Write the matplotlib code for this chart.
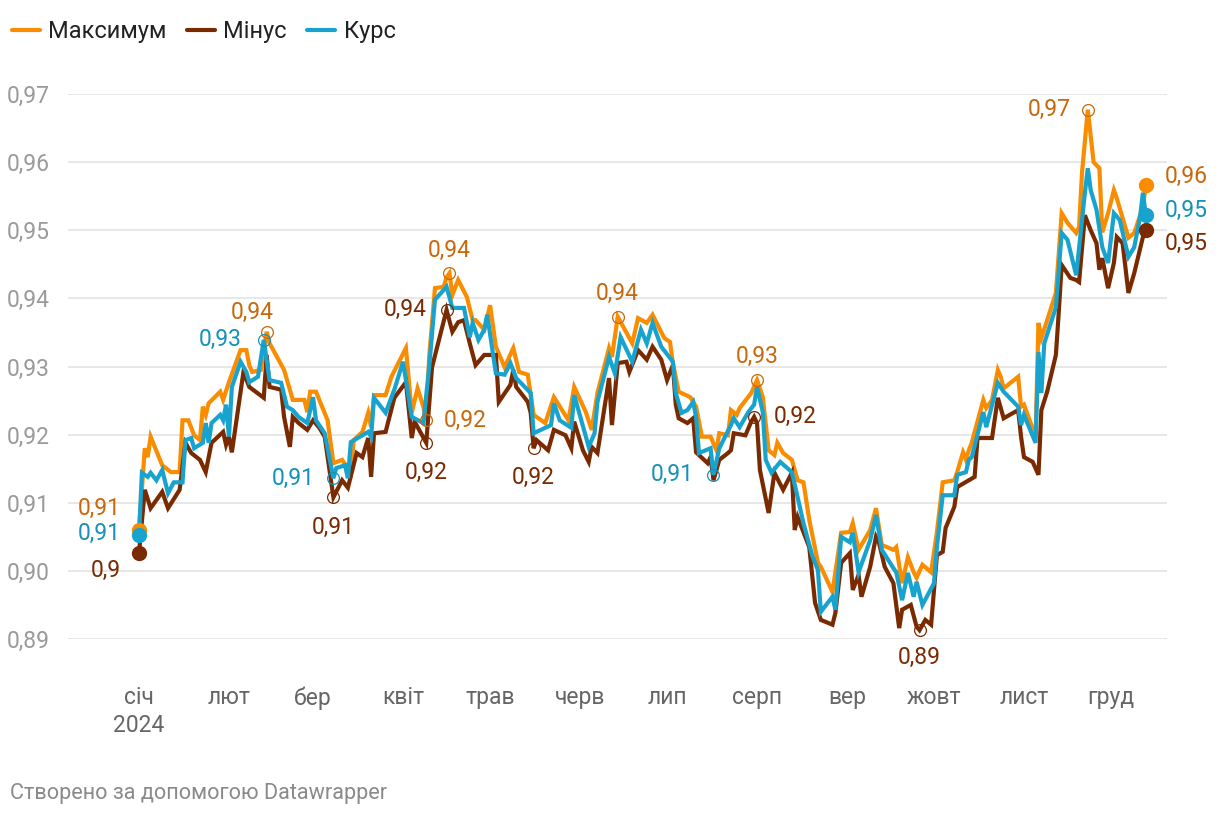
import matplotlib
matplotlib.use("Agg")
import matplotlib.pyplot as plt
import pandas as pd

plt.rcParams['font.family'] = ['Roboto', 'DejaVu Sans']

# ---------------- data ----------------
series_names = ["Максимум", "Мінус", "Курс"]

# day offsets from 2024-01-01 and values
max_days = [0, 2, 3, 4, 8, 11, 14, 15, 17, 19, 21, 22, 23, 24, 28, 29, 31, 35, 37, 38, 39, 42, 44, 45, 50,
            53, 57, 58, 59, 61, 65, 67, 70, 73, 74, 77, 79, 80, 81, 85, 87, 90, 92, 94, 96, 98, 99, 100, 102,
            105, 106, 107, 108, 110, 113, 115, 116, 119, 121, 123, 126, 129, 131, 134, 136, 140, 143, 148,
            150, 154, 156, 158, 162, 163, 165, 170, 172, 175, 177, 181, 183, 184, 186, 190, 192, 194, 197,
            199, 200, 203, 204, 206, 207, 211, 213, 215, 217, 219, 220, 222, 225, 227, 229, 231, 234, 235,
            239, 242, 245, 246, 248, 252, 254, 256, 260, 261, 263, 265, 267, 268, 270, 273, 275, 277, 281,
            282, 284, 285, 286, 287, 291, 292, 294, 296, 297, 298, 303, 304, 305, 309, 310, 311, 313, 316,
            318, 320, 323, 324, 325, 327, 329, 331, 332, 334, 336, 337, 341, 343, 346, 347]
max_vals = [0.9060, 0.9180, 0.9167, 0.9197, 0.9155, 0.9145, 0.9145, 0.9221, 0.9221, 0.9199, 0.9192, 0.9241,
            0.9229, 0.9246, 0.9263, 0.9251, 0.9277, 0.9324, 0.9324, 0.9302, 0.9292, 0.9295, 0.9351, 0.9334,
            0.9295, 0.9251, 0.9251, 0.9233, 0.9263, 0.9263, 0.9221, 0.9158, 0.9163, 0.9144, 0.9192, 0.9204,
            0.9232, 0.9211, 0.9258, 0.9258, 0.9285, 0.9310, 0.9327, 0.9232, 0.9268, 0.9241, 0.9221, 0.9314,
            0.9415, 0.9417, 0.9431, 0.9437, 0.9405, 0.9427, 0.9402, 0.9368, 0.9368, 0.9354, 0.9390, 0.9329,
            0.9299, 0.9327, 0.9292, 0.9288, 0.9229, 0.9217, 0.9255, 0.9221, 0.9270, 0.9233, 0.9207, 0.9261,
            0.9327, 0.9314, 0.9373, 0.9334, 0.9371, 0.9364, 0.9376, 0.9342, 0.9336, 0.9305, 0.9263, 0.9255,
            0.9241, 0.9197, 0.9197, 0.9177, 0.9202, 0.9199, 0.9236, 0.9229, 0.9239, 0.9261, 0.9280, 0.9255,
            0.9177, 0.9170, 0.9188, 0.9173, 0.9163, 0.9133, 0.9130, 0.9075, 0.9012, 0.9006, 0.8969, 0.9056,
            0.9057, 0.9070, 0.9031, 0.9060, 0.9092, 0.9038, 0.9031, 0.9035, 0.8982, 0.9020, 0.8998, 0.8990,
            0.9009, 0.8998, 0.9057, 0.9130, 0.9133, 0.9145, 0.9174, 0.9163, 0.9177, 0.9188, 0.9251, 0.9239,
            0.9251, 0.9295, 0.9285, 0.9268, 0.9285, 0.9241, 0.9244, 0.9197, 0.9364, 0.9342, 0.9368, 0.9408,
            0.9525, 0.9511, 0.9496, 0.9505, 0.9584, 0.9677, 0.9600, 0.9591, 0.9497, 0.9525, 0.9559, 0.9547,
            0.9489, 0.9496, 0.9534, 0.9566]

min_days = [0, 2, 4, 8, 10, 14, 16, 18, 21, 23, 25, 29, 30, 31, 32, 36, 38, 43, 44, 45, 49, 50, 52, 53, 55,
            58, 60, 62, 64, 67, 70, 72, 75, 77, 79, 80, 81, 85, 88, 92, 94, 95, 99, 101, 106, 108, 110, 112,
            114, 116, 119, 123, 124, 128, 129, 130, 134, 135, 136, 137, 141, 143, 147, 149, 150, 153, 155,
            156, 158, 162, 163, 165, 168, 169, 172, 175, 177, 180, 182, 184, 185, 186, 189, 191, 192, 196,
            197, 198, 200, 203, 204, 205, 209, 211, 212, 213, 214, 217, 219, 222, 225, 226, 227, 231, 233,
            235, 239, 240, 242, 245, 246, 248, 249, 252, 254, 255, 257, 260, 262, 263, 266, 268, 269, 271,
            273, 275, 277, 278, 281, 282, 286, 288, 289, 294, 296, 298, 303, 304, 305, 308, 310, 311, 313,
            316, 317, 318, 321, 323, 324, 326, 328, 330, 331, 332, 334, 336, 337, 339, 341, 343, 346, 347]
min_vals = [0.9026, 0.9119, 0.9092, 0.9116, 0.9092, 0.9119, 0.9188, 0.9173, 0.9163, 0.9145, 0.9188, 0.9204,
            0.9185, 0.9197, 0.9174, 0.9292, 0.9270, 0.9254, 0.9317, 0.9270, 0.9266, 0.9226, 0.9182, 0.9226,
            0.9217, 0.9207, 0.9221, 0.9211, 0.9197, 0.9108, 0.9133, 0.9122, 0.9173, 0.9167, 0.9195, 0.9138,
            0.9202, 0.9204, 0.9254, 0.9277, 0.9195, 0.9219, 0.9188, 0.9299, 0.9383, 0.9351, 0.9365, 0.9368,
            0.9334, 0.9302, 0.9317, 0.9317, 0.9248, 0.9273, 0.9295, 0.9270, 0.9248, 0.9232, 0.9180, 0.9192,
            0.9177, 0.9207, 0.9199, 0.9180, 0.9219, 0.9177, 0.9160, 0.9182, 0.9173, 0.9283, 0.9214, 0.9305,
            0.9307, 0.9292, 0.9324, 0.9310, 0.9329, 0.9310, 0.9280, 0.9302, 0.9244, 0.9224, 0.9217, 0.9224,
            0.9174, 0.9158, 0.9167, 0.9133, 0.9163, 0.9173, 0.9177, 0.9202, 0.9199, 0.9219, 0.9226, 0.9217,
            0.9148, 0.9085, 0.9144, 0.9119, 0.9144, 0.9060, 0.9079, 0.9035, 0.8953, 0.8928, 0.8921, 0.8938,
            0.9012, 0.9026, 0.8972, 0.8994, 0.8962, 0.9006, 0.9050, 0.9042, 0.9006, 0.8982, 0.8916, 0.8943,
            0.8950, 0.8918, 0.8913, 0.8928, 0.8921, 0.9023, 0.9028, 0.9063, 0.9094, 0.9123, 0.9133, 0.9138,
            0.9195, 0.9195, 0.9254, 0.9224, 0.9236, 0.9197, 0.9167, 0.9160, 0.9141, 0.9236, 0.9263, 0.9317,
            0.9380, 0.9449, 0.9430, 0.9427, 0.9424, 0.9522, 0.9500, 0.9481, 0.9442, 0.9459, 0.9415, 0.9452,
            0.9490, 0.9481, 0.9408, 0.9437, 0.9490, 0.9500]

rate_days = [0, 1, 3, 4, 6, 8, 10, 12, 15, 16, 18, 19, 22, 23, 24, 25, 28, 29, 30, 31, 32, 35, 37, 38, 41,
             43, 45, 49, 51, 53, 55, 58, 60, 61, 64, 67, 68, 71, 72, 73, 79, 80, 81, 85, 88, 91, 94, 98, 100,
             102, 106, 108, 112, 114, 115, 117, 119, 120, 123, 126, 128, 130, 135, 136, 142, 143, 145, 149,
             150, 155, 157, 158, 162, 164, 166, 170, 173, 175, 177, 180, 184, 185, 187, 189, 191, 192, 193,
             197, 198, 200, 204, 205, 207, 210, 212, 213, 215, 216, 218, 221, 225, 227, 229, 232, 234, 235,
             239, 240, 242, 245, 246, 248, 252, 254, 256, 260, 261, 263, 265, 267, 268, 270, 274, 275, 277,
             281, 282, 285, 286, 287, 291, 292, 296, 298, 303, 304, 305, 309, 310, 311, 312, 316, 318, 320,
             323, 326, 327, 328, 330, 332, 334, 336, 338, 341, 343, 345, 346, 347]
rate_vals = [0.9053, 0.9144, 0.9138, 0.9144, 0.9133, 0.9148, 0.9114, 0.9130, 0.9130, 0.9192, 0.9195, 0.9180,
             0.9188, 0.9217, 0.9188, 0.9217, 0.9229, 0.9221, 0.9244, 0.9197, 0.9270, 0.9307, 0.9292, 0.9277,
             0.9285, 0.9339, 0.9280, 0.9276, 0.9241, 0.9236, 0.9226, 0.9217, 0.9255, 0.9221, 0.9202, 0.9136,
             0.9151, 0.9155, 0.9136, 0.9189, 0.9204, 0.9197, 0.9254, 0.9232, 0.9266, 0.9307, 0.9226, 0.9217,
             0.9299, 0.9398, 0.9417, 0.9386, 0.9386, 0.9343, 0.9364, 0.9339, 0.9354, 0.9376, 0.9290, 0.9288,
             0.9305, 0.9283, 0.9261, 0.9202, 0.9214, 0.9246, 0.9221, 0.9210, 0.9258, 0.9182, 0.9202, 0.9248,
             0.9314, 0.9290, 0.9343, 0.9307, 0.9354, 0.9334, 0.9364, 0.9329, 0.9307, 0.9261, 0.9232, 0.9236,
             0.9248, 0.9226, 0.9173, 0.9180, 0.9141, 0.9180, 0.9214, 0.9224, 0.9211, 0.9233, 0.9244, 0.9270,
             0.9233, 0.9163, 0.9144, 0.9160, 0.9145, 0.9108, 0.9070, 0.9023, 0.9001, 0.8940, 0.8962, 0.8943,
             0.9050, 0.9042, 0.9056, 0.8998, 0.9045, 0.9082, 0.9031, 0.9004, 0.8998, 0.8957, 0.8997, 0.8962,
             0.8984, 0.8950, 0.8982, 0.9035, 0.9111, 0.9111, 0.9141, 0.9145, 0.9163, 0.9167, 0.9233, 0.9211,
             0.9276, 0.9263, 0.9241, 0.9214, 0.9229, 0.9188, 0.9321, 0.9261, 0.9334, 0.9387, 0.9496, 0.9486,
             0.9434, 0.9555, 0.9591, 0.9559, 0.9530, 0.9475, 0.9452, 0.9525, 0.9515, 0.9461, 0.9475, 0.9519,
             0.9555, 0.9522]

month_labels = ["січ\n2024", "лют", "бер", "квіт", "трав", "черв", "лип", "серп", "вер", "жовт", "лист", "груд"]
y_ticks = [0.89, 0.90, 0.91, 0.92, 0.93, 0.94, 0.95, 0.96, 0.97]
footer_text = "Створено за допомогою Datawrapper"

# highlighted points: (series index, day)
highlights = [(0, 44), (2, 43), (2, 67), (1, 67), (0, 99), (1, 99), (0, 107), (1, 106), (1, 136),
              (0, 165), (2, 198), (0, 213), (1, 212), (1, 269), (0, 327)]

# ---------------- style ----------------
line_colors = ["#fa8c00", "#7a2a00", "#18a3cf"]
text_colors = ["#c8680c", "#7a2a00", "#1591ba"]
PX = 0.72  # points per pixel at dpi 100
# label offsets (px, up positive) and alignment for each highlight
hl_style = [(-14, 19, "center"), (-22, 0, "right"), (-19, 0, "right"), (0, -30, "center"),
            (18, 0, "left"), (0, -30, "center"), (0, 23, "center"), (-20, 0, "right"),
            (0, -29, "center"), (0, 23, "center"), (-20, 0, "right"), (0, 24, "center"),
            (20, 0, "left"), (0, -27, "center"), (-17, 0, "right")]
start_style = [(-18, 22, "right"), (-18, -17, "right"), (-18, 1, "right")]
end_style = [(19, 9, "left"), (19, -13, "left"), (19, 5, "left")]

start = pd.Timestamp("2024-01-01")


def to_dates(days):
    return start + pd.to_timedelta(days, unit="D")


def fmt_label(v):
    s = f"{v:.2f}".rstrip("0").rstrip(".")
    return s.replace(".", ",")


all_days = [max_days, min_days, rate_days]
all_vals = [max_vals, min_vals, rate_vals]

fig = plt.figure(figsize=(12.2, 8.16), dpi=100)
W, H = 1220, 816
ax = fig.add_axes([68 / W, 1 - 639 / H, (1167 - 68) / W, (639 - 94) / H])

handles = []
for i in range(3):
    d = to_dates(all_days[i])
    ln, = ax.plot(d, all_vals[i], color=line_colors[i], lw=3.0, solid_joinstyle="miter",
                  clip_on=False, zorder=3 + i)
    handles.append(ln)

# highlighted hollow circles + labels
for (si, day), (dx, dy, ha) in zip(highlights, hl_style):
    v = all_vals[si][all_days[si].index(day)]
    dt = to_dates([day])[0]
    ax.plot([dt], [v], marker="o", ms=8.5, mfc="none", mec=text_colors[si], mew=0.9,
            zorder=10, clip_on=False)
    ax.annotate(fmt_label(v), (dt, v), xytext=(dx * PX, dy * PX), textcoords="offset points",
                ha=ha, va="center", fontsize=16.5, color=text_colors[si], zorder=11)

# start and end dots
for si in range(3):
    for idx, style in ((0, start_style[si]), (-1, end_style[si])):
        day = all_days[si][idx]
        v = all_vals[si][idx]
        dt = to_dates([day])[0]
        ax.plot([dt], [v], marker="o", ms=10, color=line_colors[si], zorder=12 + si, clip_on=False)
        dx, dy, ha = style
        ax.annotate(fmt_label(v), (dt, v), xytext=(dx * PX, dy * PX), textcoords="offset points",
                    ha=ha, va="center", fontsize=16.5, color=text_colors[si], zorder=15)

# axes
x0 = start + pd.Timedelta(days=-24.47)
x1 = start + pd.Timedelta(days=354.3)
ax.set_xlim(x0, x1)
ax.set_ylim(0.89, 0.97)
ax.set_yticks(y_ticks)
ax.set_yticklabels([f"{t:.2f}".replace(".", ",") for t in y_ticks])
ax.grid(axis="y", color="#e3e3e3", lw=1.2)
ax.set_axisbelow(True)
for s in ax.spines.values():
    s.set_visible(False)
ax.tick_params(axis="y", length=0, pad=13, labelsize=16.5, labelcolor="#9a9a9a")
ax.tick_params(axis="x", length=0, pad=34, labelsize=16.5, labelcolor="#666666")
month_pos = pd.date_range("2024-01-01", periods=12, freq="MS")
ax.set_xticks(month_pos)
ax.set_xticklabels(month_labels, linespacing=1.25)
for lbl in ax.get_xticklabels():
    lbl.set_verticalalignment("top")

# legend
leg = fig.legend(handles=handles, labels=series_names,
                 loc="upper left", bbox_to_anchor=(0.0, 1.0 - 8 / H), ncol=3, frameon=False,
                 fontsize=17, handlelength=1.2, handletextpad=0.35, columnspacing=0.85,
                 borderaxespad=0.2, borderpad=0.3)
for lh in leg.get_lines():
    lh.set_solid_capstyle("round")
    lh.set_linewidth(3.0)
for t in leg.get_texts():
    t.set_color("#222222")

fig.text(10 / W, 1 - 793 / H, footer_text, fontsize=15.6, color="#8a8a8a", ha="left", va="center")

fig.savefig("out.png", dpi=100, facecolor="white")
